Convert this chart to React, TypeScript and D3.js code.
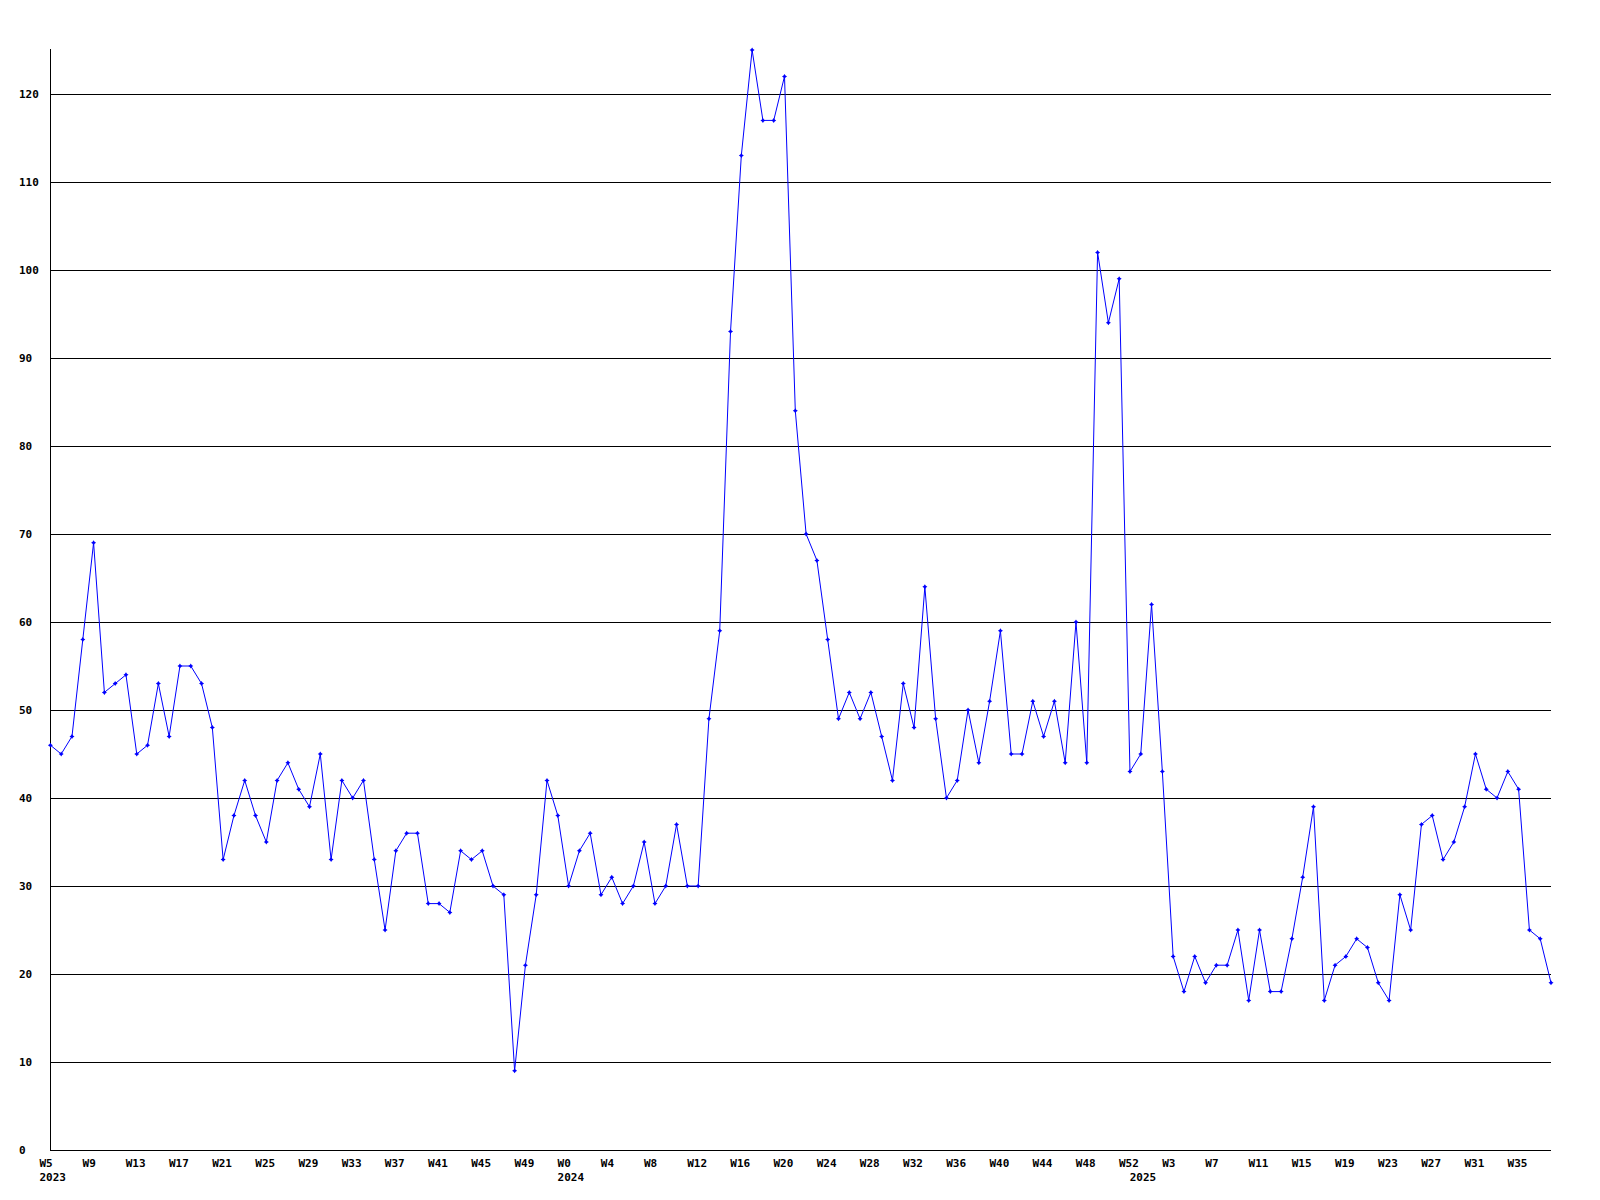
import React from "react";
import * as d3 from "d3";

// Weekly values, by year
const values2023 = [46,45,47,58,69,52,53,54,45,46,53,47,55,55,53,48,33,38,42,38,35,42,44,41,39,45,33,42,40,42,33,25,34,36,36,28,28,27,34,33,34,30,29,9,21,29,42,38];
const values2024 = [30,34,36,29,31,28,30,35,28,30,37,30,30,49,59,93,113,125,117,117,122,84,70,67,58,49,52,49,52,47,42,53,48,64,49,40,42,50,44,51,59,45,45,51,47,51,44,60,44,102,94,99,43];
const values2025 = [45,62,43,22,18,22,19,21,21,25,17,25,18,18,24,31,39,17,21,22,24,23,19,17,29,25,37,38,33,35,39,45,41,40,43,41,25,24,19];

const yearLabels = ["2023", "2024", "2025"];
const xTickLabels = ["W5","W9","W13","W17","W21","W25","W29","W33","W37","W41","W45","W49","W0","W4","W8","W12","W16","W20","W24","W28","W32","W36","W40","W44","W48","W52","W3","W7","W11","W15","W19","W23","W27","W31","W35"];
const yTicks = [0,10,20,30,40,50,60,70,80,90,100,110,120];
const tickEvery = 4;

const W = 1600, H = 1200;
const left = 50.4, right = 1551, top = 50, bottom = 1150;
const FONT = "'DejaVu Sans Mono', 'Liberation Mono', monospace";

export default function App() {
  const data = [...values2023, ...values2024, ...values2025];
  const yearStarts = [0, values2023.length, values2023.length + values2024.length];
  const x = d3.scaleLinear().domain([0, data.length - 1]).range([left, right]);
  const y = d3.scaleLinear().domain([0, 125]).range([bottom, top]);
  const line = d3.line<number>().x((_, i) => x(i)).y((d) => y(d));
  const marker = "M0,-2.5L1,-1L2.5,0L1,1L0,2.5L-1,1L-2.5,0L-1,-1Z";

  return (
    <svg width={W} height={H} style={{ position: "absolute", left: 0, top: 0, background: "#fff" }}>
      <rect x={0} y={0} width={W} height={H} fill="#fff" />
      {yTicks.filter((t) => t > 0).map((t) => (
        <line key={t} x1={left} x2={right} y1={Math.round(y(t)) + 0.5} y2={Math.round(y(t)) + 0.5} stroke="#000" strokeWidth={1} shapeRendering="crispEdges" />
      ))}
      <line x1={50.5} x2={50.5} y1={top - 1} y2={bottom + 0.5} stroke="#000" shapeRendering="crispEdges" />
      <line x1={50} x2={right} y1={bottom + 0.5} y2={bottom + 0.5} stroke="#000" shapeRendering="crispEdges" />
      {yTicks.map((t) => (
        <text key={t} x={19} y={y(t)} dominantBaseline="central" fontFamily={FONT} fontWeight="bold" fontSize={11} fill="#000">{t}</text>
      ))}
      {xTickLabels.map((lab, k) => (
        <text key={k} x={x(k * tickEvery) - 11} y={1163} dominantBaseline="central" fontFamily={FONT} fontWeight="bold" fontSize={11} fill="#000">{lab}</text>
      ))}
      {yearLabels.map((lab, k) => (
        <text key={lab} x={x(yearStarts[k]) - 11} y={1177} dominantBaseline="central" fontFamily={FONT} fontWeight="bold" fontSize={11} fill="#000">{lab}</text>
      ))}
      <path d={line(data) || ""} fill="none" stroke="#0000ff" strokeWidth={1} />
      {data.map((d, i) => (
        <path key={i} d={marker} transform={`translate(${x(i)},${y(d)})`} fill="#0000ff" />
      ))}
    </svg>
  );
}
